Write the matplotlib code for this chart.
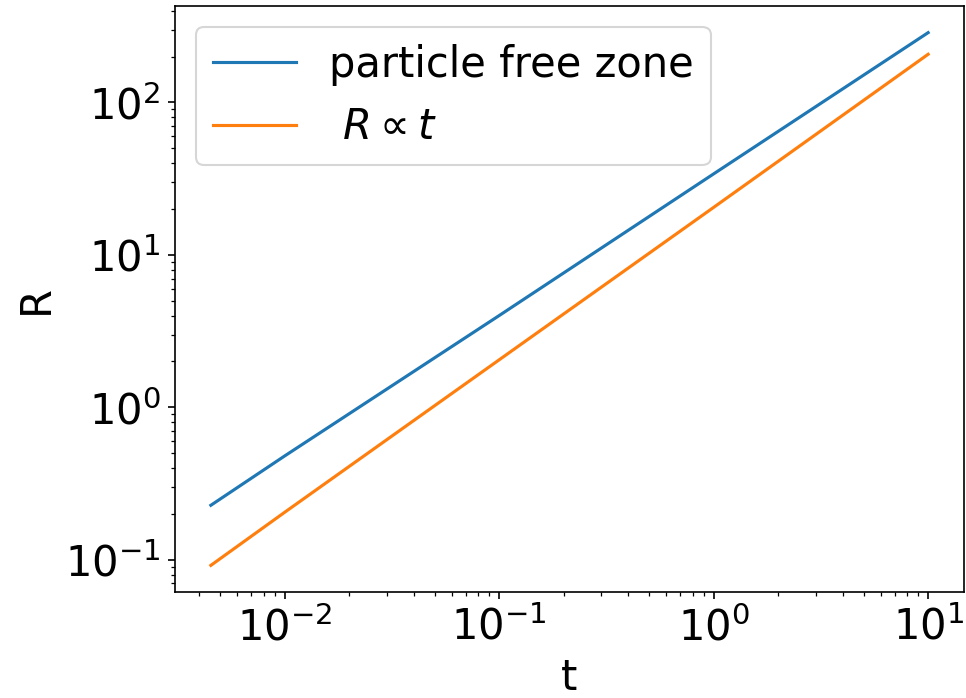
import matplotlib
matplotlib.use('Agg')
import matplotlib.pyplot as plt

# radius of the particle free zone vs time
t = [0.00453, 0.01, 0.1, 1.0, 10.0]
R_zone = [0.228, 0.48, 4.0, 34.0, 287.0]
R_linear = [0.092, 0.205, 2.05, 20.5, 207.0]

fig = plt.figure(figsize=(966 / 150, 698 / 150), dpi=150)
ax = fig.add_axes([175 / 966, 106 / 698, 789 / 966, 586 / 698])

ax.loglog(t, R_zone, color='#1f77b4', lw=1.5, label='particle free zone')
ax.loglog(t, R_linear, color='#ff7f0e', lw=1.5, label=r' $R \propto t$')

ax.set_xlabel('t', fontsize=20)
ax.set_ylabel('R', fontsize=20)
ax.tick_params(labelsize=20)
ax.legend(loc='upper left', fontsize=20)

fig.savefig('out.png', dpi=150)
